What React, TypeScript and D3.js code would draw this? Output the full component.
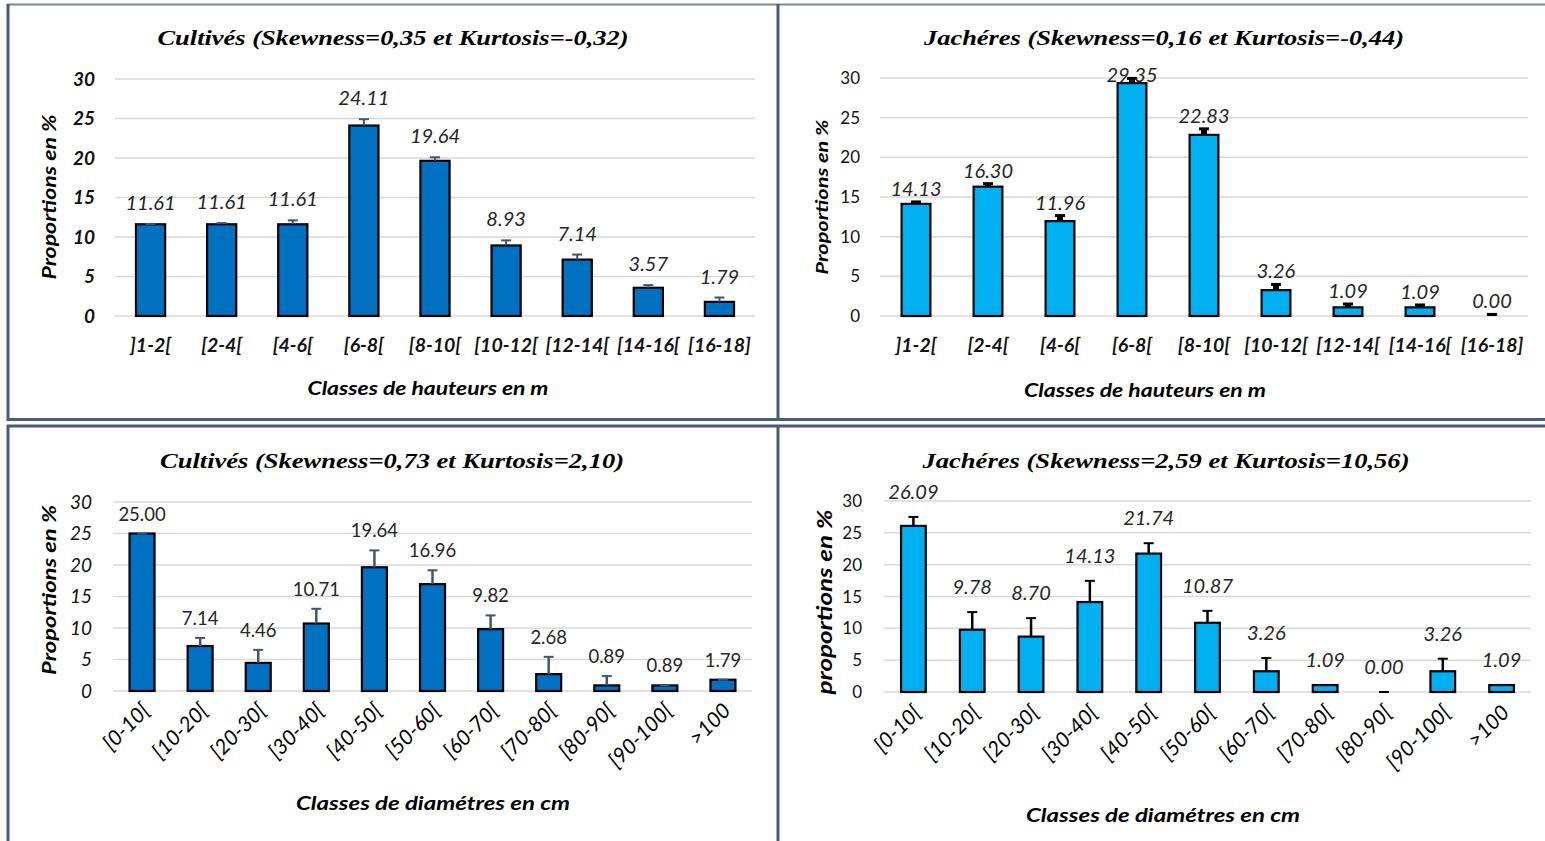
import React from "react";
import * as d3 from "d3";

// Height classes (m) and diameter classes (cm)
const heightClasses = ["]1-2[", "[2-4[", "[4-6[", "[6-8[", "[8-10[", "[10-12[", "[12-14[", "[14-16[", "[16-18]"];
const diamClasses = ["[0-10[", "[10-20[", "[20-30[", "[30-40[", "[40-50[", "[50-60[", "[60-70[", "[70-80[", "[80-90[", "[90-100[", ">100"];

// Proportions (%) and upper error bars
const heightCultives = [11.61, 11.61, 11.61, 24.11, 19.64, 8.93, 7.14, 3.57, 1.79];
const heightCultivesErr = [0.05, 0.15, 0.5, 0.8, 0.45, 0.64, 0.64, 0.34, 0.55];
const heightJacheres = [14.13, 16.3, 11.96, 29.35, 22.83, 3.26, 1.09, 1.09, 0.0];
const heightJacheresErr = [0.25, 0.38, 0.7, 0.6, 0.76, 0.72, 0.42, 0.3, 0.2];
const diamCultives = [25.0, 7.14, 4.46, 10.71, 19.64, 16.96, 9.82, 2.68, 0.89, 0.89, 1.79];
const diamCultivesErr = [0, 1.28, 2.07, 2.34, 2.68, 2.2, 2.18, 2.74, 1.48, 0, 0];
const diamJacheres = [26.09, 9.78, 8.7, 14.13, 21.74, 10.87, 3.26, 1.09, 0.0, 3.26, 1.09];
const diamJacheresErr = [1.41, 2.77, 2.9, 3.33, 1.63, 1.88, 2.07, 0, 0, 1.97, 0];

const yTicks = [0, 5, 10, 15, 20, 25, 30];

const SANS = "Lato, 'Open Sans', sans-serif";
const SERIF = "'Liberation Serif', 'Times New Roman', serif";
const DARK_BLUE = "#0070c0";
const LIGHT_BLUE = "#00b0f0";
const SLATE = "#44546a";
const GRID = "#d9d9d9";
const BORDER = "#4b5b77";

type FontStyle = { weight: string; italic: boolean; size: number };

interface PanelProps {
  title: string;
  titleX: number;
  titleY: number;
  titleLen: number;
  cats: string[];
  values: number[];
  errs: number[];
  fill: string;
  errColor: string;
  errStem: number;
  x0: number;
  x1: number;
  yZero: number;
  yTop: number;
  padding: number;
  tickX: number;
  tickFont: FontStyle;
  yTitle: string;
  yTitleX: number;
  yTitleY: number;
  yTitleLen: number;
  yTitleSize: number;
  xRotate: boolean;
  xLabelY: number;
  xLabelFont: FontStyle;
  xTitle: string;
  xTitleX: number;
  xTitleY: number;
  xTitleLen: number;
  valueFont: FontStyle;
  valueOffset: number;
  keepLabelsInside?: boolean;
}

function Panel(p: PanelProps) {
  const x = d3
    .scaleBand<string>()
    .domain(p.cats)
    .range([p.x0, p.x1])
    .paddingInner(p.padding)
    .paddingOuter(p.padding / 2);
  const y = d3.scaleLinear().domain([0, 30]).range([p.yZero, p.yTop]);
  const bw = x.bandwidth();
  const capHalf = 5;

  return (
    <g>
      <text
        x={p.titleX}
        y={p.titleY}
        textAnchor="middle"
        fontFamily={SERIF}
        fontWeight="bold"
        fontStyle="italic"
        fontSize={22}
        textLength={p.titleLen}
        lengthAdjust="spacingAndGlyphs"
        fill="#000"
      >
        {p.title}
      </text>

      {yTicks.map((t) => (
        <g key={t}>
          <line x1={p.x0} x2={p.x1} y1={y(t)} y2={y(t)} stroke={GRID} strokeWidth={1.5} />
          <text
            x={p.tickX}
            y={y(t)}
            dy="0.36em"
            textAnchor="end"
            fontFamily={SANS}
            fontWeight={p.tickFont.weight}
            fontStyle={p.tickFont.italic ? "italic" : "normal"}
            fontSize={p.tickFont.size}
            fill="#111"
          >
            {t}
          </text>
        </g>
      ))}

      <text
        transform={`translate(${p.yTitleX},${p.yTitleY}) rotate(-90)`}
        textAnchor="middle"
        dy="0.35em"
        fontFamily={SANS}
        fontWeight="bold"
        fontStyle="italic"
        fontSize={p.yTitleSize}
        textLength={p.yTitleLen}
        lengthAdjust="spacingAndGlyphs"
        fill="#000"
      >
        {p.yTitle}
      </text>

      {p.cats.map((c, i) => {
        const v = p.values[i];
        const e = p.errs[i];
        const bx = x(c) as number;
        const cx = bx + bw / 2;
        const top = y(v);
        const errTop = y(v + e);
        let labelY = errTop - p.valueOffset;
        if (p.keepLabelsInside) labelY = Math.max(labelY, p.yTop + 4);
        return (
          <g key={c}>
            {v > 0 && (
              <rect x={bx} y={top} width={bw} height={p.yZero - top} fill={p.fill} stroke="#000" strokeWidth={2.2} />
            )}
            <line x1={cx} x2={cx} y1={top} y2={errTop} stroke={p.errColor} strokeWidth={p.errStem} />
            <line
              x1={cx - capHalf}
              x2={cx + capHalf}
              y1={errTop}
              y2={errTop}
              stroke={p.errColor}
              strokeWidth={p.errStem > 3 ? 3 : 2}
            />
            <text
              x={cx}
              y={labelY}
              textAnchor="middle"
              fontFamily={SANS}
              fontWeight={p.valueFont.weight}
              fontStyle={p.valueFont.italic ? "italic" : "normal"}
              fontSize={p.valueFont.size}
              fill="#262626"
            >
              {v.toFixed(2)}
            </text>
            {p.xRotate ? (
              <text
                transform={`translate(${cx + 9},${p.xLabelY}) rotate(-45)`}
                textAnchor="end"
                fontFamily={SANS}
                fontWeight={p.xLabelFont.weight}
                fontStyle={p.xLabelFont.italic ? "italic" : "normal"}
                fontSize={p.xLabelFont.size}
                fill="#000"
              >
                {c}
              </text>
            ) : (
              <text
                x={cx}
                y={p.xLabelY}
                textAnchor="middle"
                fontFamily={SANS}
                fontWeight={p.xLabelFont.weight}
                fontStyle={p.xLabelFont.italic ? "italic" : "normal"}
                fontSize={p.xLabelFont.size}
                fill="#111"
              >
                {c}
              </text>
            )}
          </g>
        );
      })}

      <text
        x={p.xTitleX}
        y={p.xTitleY}
        textAnchor="middle"
        fontFamily={SANS}
        fontWeight="bold"
        fontStyle="italic"
        fontSize={19}
        textLength={p.xTitleLen}
        lengthAdjust="spacingAndGlyphs"
        fill="#000"
      >
        {p.xTitle}
      </text>
    </g>
  );
}

export default function App() {
  const W = 1545;
  const H = 841;
  const boldItalic: FontStyle = { weight: "bold", italic: true, size: 19.5 };
  const rotLabel: FontStyle = { weight: "normal", italic: true, size: 21 };
  return (
    <svg
      width={W}
      height={H}
      viewBox={`0 0 ${W} ${H}`}
      style={{ position: "absolute", left: 0, top: 0, background: "#fff" }}
    >
      <rect x={0} y={0} width={W} height={H} fill="#fff" />

      {/* panel frames */}
      <line x1={7} x2={W} y1={4.5} y2={4.5} stroke="#7d8898" strokeWidth={2} />
      <line x1={8} x2={8} y1={4} y2={421} stroke={BORDER} strokeWidth={3} />
      <line x1={778} x2={778} y1={4} y2={421} stroke={BORDER} strokeWidth={3} />
      <line x1={7} x2={W} y1={419.5} y2={419.5} stroke={BORDER} strokeWidth={3} />
      <line x1={7} x2={W} y1={426} y2={426} stroke={BORDER} strokeWidth={3} />
      <line x1={8} x2={8} y1={425} y2={H} stroke={BORDER} strokeWidth={3} />
      <line x1={778} x2={778} y1={425} y2={H} stroke={BORDER} strokeWidth={3} />

      <Panel
        title="Cultivés (Skewness=0,35 et Kurtosis=-0,32)"
        titleX={393}
        titleY={45}
        titleLen={471}
        cats={heightClasses}
        values={heightCultives}
        errs={heightCultivesErr}
        fill={DARK_BLUE}
        errColor={SLATE}
        errStem={2}
        x0={115}
        x1={755}
        yZero={316}
        yTop={79}
        padding={0.59}
        tickX={95}
        tickFont={{ weight: "bold", italic: true, size: 19 }}
        yTitle="Proportions en %"
        yTitleX={50}
        yTitleY={197}
        yTitleLen={165}
        yTitleSize={18}
        xRotate={false}
        xLabelY={352}
        xLabelFont={boldItalic}
        xTitle="Classes de hauteurs en m"
        xTitleX={428}
        xTitleY={395}
        xTitleLen={241}
        valueFont={{ weight: "normal", italic: true, size: 20 }}
        valueOffset={14}
      />

      <Panel
        title="Jachéres (Skewness=0,16 et Kurtosis=-0,44)"
        titleX={1164}
        titleY={45}
        titleLen={480}
        cats={heightClasses}
        values={heightJacheres}
        errs={heightJacheresErr}
        fill={LIGHT_BLUE}
        errColor="#000"
        errStem={6}
        x0={880}
        x1={1528}
        yZero={316}
        yTop={78}
        padding={0.6}
        tickX={860}
        tickFont={{ weight: "normal", italic: false, size: 17 }}
        yTitle="Proportions en %"
        yTitleX={822}
        yTitleY={197}
        yTitleLen={155}
        yTitleSize={17}
        xRotate={false}
        xLabelY={352}
        xLabelFont={boldItalic}
        xTitle="Classes de hauteurs en m"
        xTitleX={1145}
        xTitleY={397}
        xTitleLen={242}
        valueFont={{ weight: "normal", italic: true, size: 20 }}
        valueOffset={6}
        keepLabelsInside={true}
      />

      <Panel
        title="Cultivés (Skewness=0,73 et Kurtosis=2,10)"
        titleX={392}
        titleY={468}
        titleLen={464}
        cats={diamClasses}
        values={diamCultives}
        errs={diamCultivesErr}
        fill={DARK_BLUE}
        errColor={SLATE}
        errStem={2.5}
        x0={113}
        x1={752}
        yZero={691}
        yTop={502}
        padding={0.57}
        tickX={92}
        tickFont={{ weight: "normal", italic: true, size: 19 }}
        yTitle="Proportions en %"
        yTitleX={50}
        yTitleY={590}
        yTitleLen={170}
        yTitleSize={18}
        xRotate={true}
        xLabelY={712}
        xLabelFont={rotLabel}
        xTitle="Classes de diamétres en cm"
        xTitleX={433}
        xTitleY={810}
        xTitleLen={274}
        valueFont={{ weight: "normal", italic: false, size: 18.5 }}
        valueOffset={13}
      />

      <Panel
        title="Jachéres (Skewness=2,59 et Kurtosis=10,56)"
        titleX={1166}
        titleY={468}
        titleLen={487}
        cats={diamClasses}
        values={diamJacheres}
        errs={diamJacheresErr}
        fill={LIGHT_BLUE}
        errColor="#000"
        errStem={2.5}
        x0={884}
        x1={1531}
        yZero={692}
        yTop={501}
        padding={0.58}
        tickX={862}
        tickFont={{ weight: "normal", italic: false, size: 17 }}
        yTitle="proportions en %"
        yTitleX={825}
        yTitleY={602}
        yTitleLen={185}
        yTitleSize={21}
        xRotate={true}
        xLabelY={714}
        xLabelFont={rotLabel}
        xTitle="Classes de diamétres en cm"
        xTitleX={1163}
        xTitleY={822}
        xTitleLen={274}
        valueFont={{ weight: "normal", italic: true, size: 20 }}
        valueOffset={18}
      />
    </svg>
  );
}
